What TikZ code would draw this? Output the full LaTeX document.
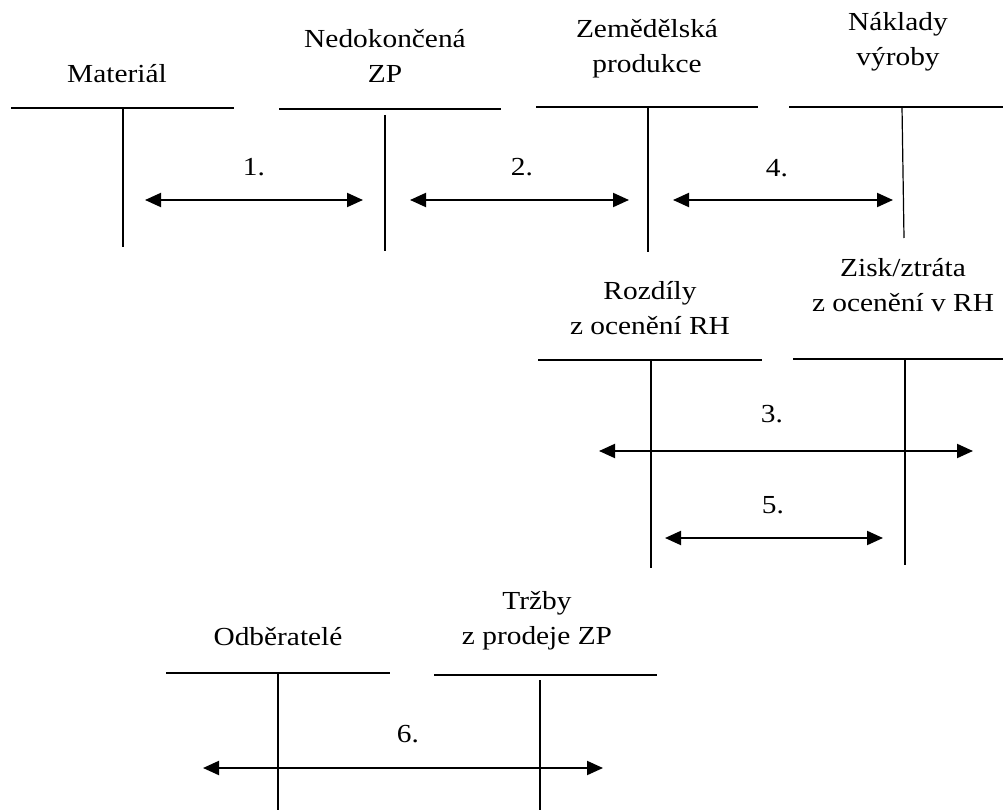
\documentclass[tikz,border=0pt]{standalone}
\usepackage{fontspec}
\setmainfont{Liberation Serif}[FakeStretch=1.13]
\usetikzlibrary{arrows.meta}

\begin{document}
\begin{tikzpicture}[x=1pt, y=-1pt,
  % labels are placed by the baseline of their last line
  lbl/.style={anchor=base, align=center, inner sep=0pt, font=\fontsize{26}{35}\selectfont},
  heavy/.style={line width=1.9pt},
  light/.style={line width=1.2pt},
  flow/.style={line width=2pt, {Triangle[length=16pt,width=14pt]}-{Triangle[length=16pt,width=14pt]}}]

\useasboundingbox (0,0) rectangle (1003,810);

% ---- account: Materiál
\node[lbl] (matL) at (117,83) {Materiál};
\coordinate (matHl) at (11,108);  \coordinate (matHr) at (234,108);
\coordinate (matVt) at (123,108); \coordinate (matVb) at (123,247);
\draw[heavy] (matHl) -- (matHr);
\draw[heavy] (matVt) -- (matVb);

% ---- account: Nedokončená ZP
\node[lbl] (nzpL) at (385,83) {Nedokončená\\ZP};
\coordinate (nzpHl) at (279,109); \coordinate (nzpHr) at (501,109);
\coordinate (nzpVt) at (385,115); \coordinate (nzpVb) at (385,251);
\draw[light] (nzpHl) -- (nzpHr);
\draw[light] (nzpVt) -- (nzpVb);

% ---- account: Zemědělská produkce
\node[lbl] (zpL) at (647,73) {Zemědělská\\produkce};
\coordinate (zpHl) at (536,107); \coordinate (zpHr) at (758,107);
\coordinate (zpVt) at (648,107); \coordinate (zpVb) at (648,252);
\draw[heavy] (zpHl) -- (zpHr);
\draw[heavy] (zpVt) -- (zpVb);

% ---- account: Náklady výroby
\node[lbl] (nvL) at (898,66) {Náklady\\výroby};
\coordinate (nvHl) at (789,107); \coordinate (nvHr) at (1003,107);
\coordinate (nvVt) at (902,107); \coordinate (nvVb) at (904,238);
\draw[heavy] (nvHl) -- (nvHr);
\draw[light] (nvVt) -- (nvVb);

% ---- account: Rozdíly z ocenění RH
\node[lbl] (roL) at (650,334) {Rozdíly\\z ocenění RH};
\coordinate (roHl) at (538,360); \coordinate (roHr) at (762,360);
\coordinate (roVt) at (651,360); \coordinate (roVb) at (651,568);
\draw[heavy] (roHl) -- (roHr);
\draw[heavy] (roVt) -- (roVb);

% ---- account: Zisk/ztráta z ocenění v RH
\node[lbl] (zzL) at (903,311) {Zisk/ztráta\\z ocenění v RH};
\coordinate (zzHl) at (793,359); \coordinate (zzHr) at (1003,359);
\coordinate (zzVt) at (905,359); \coordinate (zzVb) at (905,565);
\draw[heavy] (zzHl) -- (zzHr);
\draw[heavy] (zzVt) -- (zzVb);

% ---- account: Odběratelé
\node[lbl] (odL) at (278,645) {Odběratelé};
\coordinate (odHl) at (166,673); \coordinate (odHr) at (390,673);
\coordinate (odVt) at (278,673); \coordinate (odVb) at (278,810);
\draw[heavy] (odHl) -- (odHr);
\draw[heavy] (odVt) -- (odVb);

% ---- account: Tržby z prodeje ZP
\node[lbl] (trL) at (537,644) {Tržby\\z prodeje ZP};
\coordinate (trHl) at (434,675); \coordinate (trHr) at (657,675);
\coordinate (trVt) at (540,680); \coordinate (trVb) at (540,810);
\draw[light] (trHl) -- (trHr);
\draw[light] (trVt) -- (trVb);

% ---- posting arrows
\coordinate (a1l) at (145,200); \coordinate (a1r) at (363,200);
\coordinate (a2l) at (410,200); \coordinate (a2r) at (629,200);
\coordinate (a4l) at (673,200); \coordinate (a4r) at (893,200);
\coordinate (a3l) at (599,451); \coordinate (a3r) at (973,451);
\coordinate (a5l) at (665,538); \coordinate (a5r) at (883,538);
\coordinate (a6l) at (203,768); \coordinate (a6r) at (603,768);
\draw[flow] (a1l) -- (a1r);
\draw[flow] (a2l) -- (a2r);
\draw[flow] (a4l) -- (a4r);
\draw[flow] (a3l) -- (a3r);
\draw[flow] (a5l) -- (a5r);
\draw[flow] (a6l) -- (a6r);

% ---- step numbers
\node[lbl] (n1) at (254,176) {1.};
\node[lbl] (n2) at (522,176) {2.};
\node[lbl] (n4) at (777,177) {4.};
\node[lbl] (n3) at (772,422) {3.};
\node[lbl] (n5) at (773,513) {5.};
\node[lbl] (n6) at (408,742) {6.};

\end{tikzpicture}
\end{document}
